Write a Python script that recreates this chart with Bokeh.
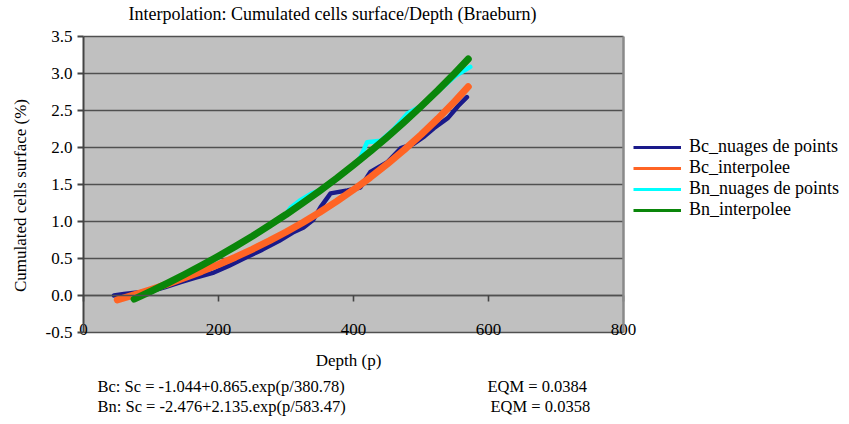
import math
from bokeh.plotting import figure
from bokeh.models import (Label, Legend, LegendItem, LinearAxis, FixedTicker,
                          NumeralTickFormatter, Range1d, BoxAnnotation)
from bokeh.embed import file_html
from bokeh.resources import INLINE

# ---------------- data ----------------
title_text = "Interpolation: Cumulated cells surface/Depth (Braeburn)"
x_label = "Depth (p)"
y_label = "Cumulated cells surface (%)"
formula_bc = "Bc: Sc = -1.044+0.865.exp(p/380.78)"
formula_bn = "Bn: Sc = -2.476+2.135.exp(p/583.47)"
eqm_bc = "EQM = 0.0384"
eqm_bn = "EQM = 0.0358"

x_ticks = [0, 200, 400, 600, 800]
y_ticks = [-0.5, 0.0, 0.5, 1.0, 1.5, 2.0, 2.5, 3.0, 3.5]

series_names = ["Bc_nuages de points", "Bc_interpolee",
                "Bn_nuages de points", "Bn_interpolee"]

bc_pts_p = [45, 60, 80, 100, 120, 144, 165, 193, 215, 242, 265, 290, 310, 326,
            340, 351, 366, 391, 410, 425, 450, 470, 489, 505, 519, 540, 555, 568]
bc_pts_v = [0.00, 0.02, 0.04, 0.06, 0.11, 0.18, 0.24, 0.31, 0.40, 0.52, 0.62,
            0.74, 0.85, 0.92, 1.02, 1.19, 1.38, 1.42, 1.46, 1.67, 1.80, 1.99,
            2.05, 2.15, 2.26, 2.40, 2.56, 2.68]

bc_fit_p = [50, 75, 100, 125, 150, 175, 200, 225, 250, 275, 300, 325, 350,
            375, 400, 425, 450, 475, 500, 525, 550, 570]
bc_fit_v = [-0.058, 0.009, 0.081, 0.157, 0.239, 0.326, 0.419, 0.518, 0.624,
            0.737, 0.858, 0.987, 1.125, 1.272, 1.429, 1.597, 1.776, 1.967,
            2.172, 2.390, 2.623, 2.821]

bn_pts_p = [75, 100, 125, 150, 175, 200, 225, 250, 275, 300, 307, 320, 338,
            350, 370, 395, 410, 420, 440, 460, 480, 500, 525, 550, 573]
bn_pts_v = [-0.03, 0.05, 0.16, 0.28, 0.40, 0.53, 0.66, 0.80, 0.95, 1.10, 1.19,
            1.28, 1.38, 1.42, 1.55, 1.73, 1.86, 2.07, 2.09, 2.25, 2.46, 2.56,
            2.76, 2.96, 3.09]

bn_fit_p = [75, 100, 125, 150, 175, 200, 225, 250, 275, 300, 325, 350, 375,
            400, 425, 450, 475, 500, 525, 550, 570]
bn_fit_v = [-0.048, 0.058, 0.169, 0.285, 0.406, 0.532, 0.664, 0.801, 0.945,
            1.094, 1.251, 1.414, 1.584, 1.762, 1.947, 2.141, 2.343, 2.554,
            2.774, 3.004, 3.195]

colors = ["#1a1a8a", "#ff6424", "#00ffff", "#0a860a"]

SERIF = "'Liberation Serif', 'Times New Roman', serif"
NAN = float("nan")

# ---------------- figure ----------------
# the frame covers the whole page; the gray plot area is a box inside it
p = figure(width=849, height=424, output_backend="svg", toolbar_location=None,
           x_range=Range1d(-123.0, 1134.8), y_range=Range1d(-1.743, 3.986),
           min_border=0)
p.background_fill_color = "white"
p.border_fill_color = "white"
p.outline_line_color = None

p.add_layout(BoxAnnotation(left=x_ticks[0], right=x_ticks[-1],
                           bottom=y_ticks[0], top=y_ticks[-1],
                           fill_color="#c0c0c0", fill_alpha=1.0,
                           line_color=None, level="image"))

# horizontal grid, limited to the plot area
p.xgrid.grid_line_color = None
p.ygrid.ticker = FixedTicker(ticks=y_ticks)
p.ygrid.cross_bounds = (x_ticks[0], x_ticks[-1])
p.ygrid.grid_line_color = "#505050"
p.ygrid.grid_line_width = 1.6

# left axis at x = 0
ya = p.yaxis[0]
ya.fixed_location = x_ticks[0]
ya.ticker = FixedTicker(ticks=y_ticks)
ya.bounds = (y_ticks[0], y_ticks[-1])
ya.formatter = NumeralTickFormatter(format="0.0")
ya.axis_line_color = "#444444"
ya.axis_line_width = 2
ya.major_tick_line_color = "#444444"
ya.major_tick_line_width = 2
ya.major_tick_out = 6
ya.major_tick_in = 0
ya.minor_tick_line_color = None
ya.major_label_standoff = 5
ya.major_label_text_font = SERIF
ya.major_label_text_font_size = "17px"
ya.major_label_text_color = "black"

# x axis crossing at y = 0, labels pushed to the foot of the plot area
xa = p.xaxis[0]
xa.fixed_location = 0
xa.bounds = (x_ticks[0], x_ticks[-1])
xa.ticker = FixedTicker(ticks=x_ticks)
xa.axis_line_color = "#505050"
xa.axis_line_width = 1.6
xa.major_tick_line_color = "#444444"
xa.major_tick_line_width = 1.6
xa.major_tick_out = 6
xa.major_tick_in = 0
xa.minor_tick_line_color = None
xa.major_label_standoff = 22
xa.major_label_text_font = SERIF
xa.major_label_text_font_size = "17px"
xa.major_label_text_color = "black"

# right border of the plot area
rb = LinearAxis(ticker=FixedTicker(ticks=[]), fixed_location=x_ticks[-1],
                bounds=(y_ticks[0], y_ticks[-1]),
                axis_line_color="#8a8a8a", axis_line_width=2.5,
                major_tick_line_color=None, minor_tick_line_color=None,
                major_tick_out=0, major_tick_in=0, major_label_standoff=0)
p.add_layout(rb, "right")

# ---------------- series ----------------
p.line(bc_pts_p, bc_pts_v, line_color=colors[0], line_width=4.5,
       line_cap="round", line_join="round")
p.line(bc_fit_p, bc_fit_v, line_color=colors[1], line_width=7,
       line_cap="round", line_join="round")
p.line(bn_pts_p, bn_pts_v, line_color=colors[2], line_width=4.5,
       line_cap="round", line_join="round")
p.line(bn_fit_p, bn_fit_v, line_color=colors[3], line_width=7,
       line_cap="round", line_join="round")

# legend swatches (thin lines, nothing drawn in the plot)
items = []
for name, c in zip(series_names, colors):
    r = p.line([NAN], [NAN], line_color=c, line_width=3)
    items.append(LegendItem(label=name, renderers=[r]))
legend = Legend(items=items, location=(633, 204), padding=0, margin=0,
                spacing=-1, glyph_width=48, glyph_height=20, label_height=20,
                label_standoff=8, label_text_font=SERIF,
                label_text_font_size="18px", label_text_color="black",
                border_line_color=None, background_fill_alpha=0)
p.add_layout(legend)


# ---------------- texts ----------------
def lab(x, y, text, size, align="left", angle=0.0):
    p.add_layout(Label(x=x, y=y, text=text, text_font=SERIF,
                       text_font_size=size, text_color="black",
                       text_align=align, text_baseline="middle",
                       angle=angle))


lab(368.9, 3.797, title_text, "18px", "center")
lab(-93.3, 1.351, y_label, "17px", "center", math.pi / 2)
lab(392.6, -0.878, x_label, "17px", "center")
lab(20.7, -1.230, formula_bc, "16.5px")
lab(598.5, -1.230, eqm_bc, "16.5px")
lab(20.7, -1.500, formula_bn, "16.5px")
lab(603.0, -1.500, eqm_bn, "16.5px")

open("out.html", "w").write(file_html(p, INLINE))
